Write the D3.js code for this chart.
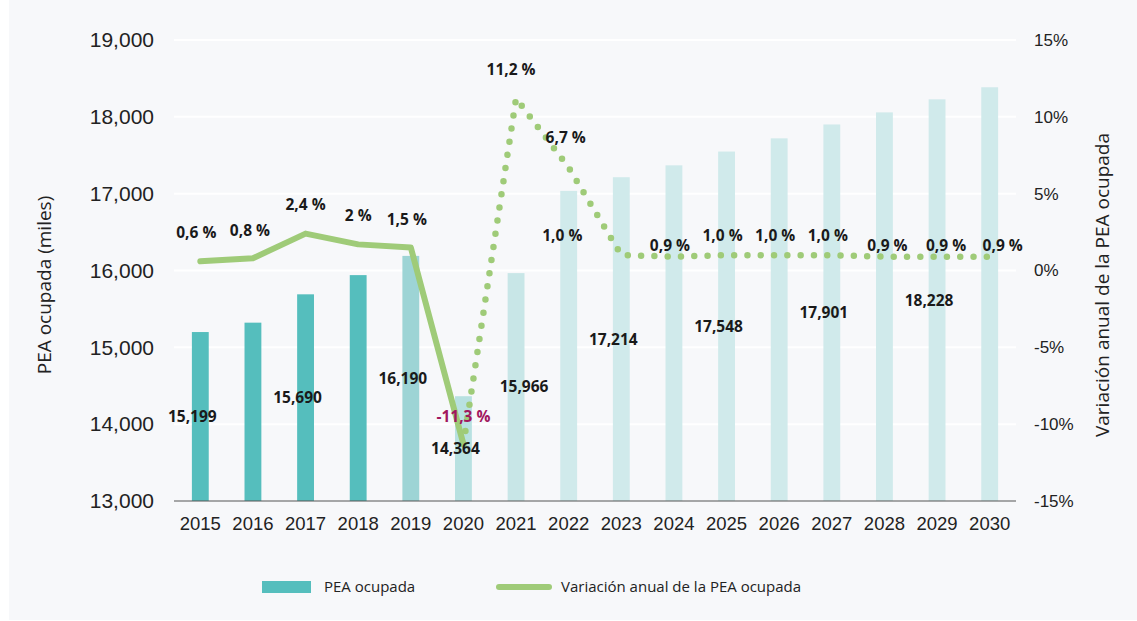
<!DOCTYPE html>
<html>
<head>
<meta charset="utf-8">
<script src="https://cdn.jsdelivr.net/npm/d3@7"></script>
<style>
  body { margin: 0; background: #fff; font-family: "Open Sans", "Noto Sans", sans-serif; }
</style>
</head>
<body>
<div id="chart"></div>
<script>
// data
var years = ["2015", "2016", "2017", "2018", "2019", "2020", "2021", "2022",
             "2023", "2024", "2025", "2026", "2027", "2028", "2029", "2030"];
var pea = [15199, 15321, 15690, 15940, 16190, 14364, 15966, 17036,
           17214, 17369, 17548, 17720, 17901, 18058, 18228, 18385];
var peaLabels = ["15,199", "", "15,690", "", "16,190", "14,364", "15,966", "",
                 "17,214", "", "17,548", "", "17,901", "", "18,228", ""];
var variacion = [0.6, 0.8, 2.4, 1.7, 1.5, -11.3, 11.2, 6.7,
                 1.0, 0.9, 1.0, 1.0, 1.0, 0.9, 0.9, 0.9];
var varLabels = ["0,6 %", "0,8 %", "2,4 %", "2 %", "1,5 %", "-11,3 %", "11,2 %", "6,7 %",
                 "1,0 %", "0,9 %", "1,0 %", "1,0 %", "1,0 %", "0,9 %", "0,9 %", "0,9 %"];
var leftTicks = [13000, 14000, 15000, 16000, 17000, 18000, 19000];
var rightTicks = [-15, -10, -5, 0, 5, 10, 15];

var svgWidth = 1137;
var svgHeight = 621;

var margin = { top: 40, right: 121, bottom: 120, left: 174 };
var width = svgWidth - margin.left - margin.right;
var height = svgHeight - margin.top - margin.bottom;

var barColors = ["#55bebd", "#55bebd", "#55bebd", "#55bebd", "#9dd4d5", "#b8e1e1", "#c8e6e7"];
var lightBar = "#d0eaeb";
var green = "#9fcb78";

// label nudges (dx, dy) for the line labels
var lineLabelOffset = [
  [-4, -29], [-3, -28], [0, -29], [0, -29], [-4, -28], [0, -28], [-5, -29], [-3, -30],
  [-59, -20], [-4, -11], [-4, -20], [-4, -20], [-4, -20], [3, -11], [9, -11], [13, -11]
];

var svg = d3.select("#chart")
  .append("svg")
  .attr("width", svgWidth)
  .attr("height", svgHeight);

svg.append("rect")
  .attr("x", 9)
  .attr("y", 0)
  .attr("width", svgWidth - 9)
  .attr("height", 620)
  .attr("fill", "#f7f8fa");

var chartGroup = svg.append("g")
  .attr("transform", `translate(${margin.left}, ${margin.top})`);

var xScale = d3.scaleBand()
  .domain(years)
  .range([0, width])
  .paddingInner(0.68)
  .paddingOuter(0.34);

var yLeft = d3.scaleLinear()
  .domain([13000, 19000])
  .range([height, 0]);

var yRight = d3.scaleLinear()
  .domain([-15, 15])
  .range([height, 0]);

// gridlines
chartGroup.append("g")
  .selectAll("line")
  .data(leftTicks.slice(1))
  .enter()
  .append("line")
  .attr("x1", 0)
  .attr("x2", width)
  .attr("y1", d => yLeft(d))
  .attr("y2", d => yLeft(d))
  .attr("stroke", "#ffffff")
  .attr("stroke-width", 2);

// bars
chartGroup.selectAll("rect.bar")
  .data(pea)
  .enter()
  .append("rect")
  .attr("class", "bar")
  .attr("x", (d, i) => xScale(years[i]))
  .attr("y", d => yLeft(d))
  .attr("width", xScale.bandwidth())
  .attr("height", d => height - yLeft(d))
  .attr("fill", (d, i) => i < barColors.length ? barColors[i] : lightBar);

// baseline
chartGroup.append("line")
  .attr("x1", 0)
  .attr("x2", width)
  .attr("y1", height)
  .attr("y2", height)
  .attr("stroke", "#555")
  .attr("stroke-width", 1.2);

// axes
var bottomAxis = d3.axisBottom(xScale).tickSize(0).tickPadding(16);
var leftAxis = d3.axisLeft(yLeft).tickValues(leftTicks).tickSize(0).tickPadding(20)
  .tickFormat(d3.format(","));
var rightAxis = d3.axisRight(yRight).tickValues(rightTicks).tickSize(0).tickPadding(18)
  .tickFormat(d => d + "%");

var gx = chartGroup.append("g")
  .attr("transform", `translate(0, ${height})`)
  .call(bottomAxis);
gx.selectAll("text").style("font-size", "18.5px").attr("fill", "#222");

var gl = chartGroup.append("g").call(leftAxis);
gl.selectAll("text").style("font-size", "21px").attr("fill", "#222");

var gr = chartGroup.append("g")
  .attr("transform", `translate(${width}, 0)`)
  .call(rightAxis);
gr.selectAll("text").style("font-size", "17px").attr("fill", "#222").attr("text-anchor", "start");

chartGroup.selectAll(".domain").remove();

// line
var cx = i => xScale(years[i]) + xScale.bandwidth() / 2;
var lineGen = d3.line()
  .x(d => cx(d.i))
  .y(d => yRight(d.v));

var pts = variacion.map((v, i) => ({ v: v, i: i }));

chartGroup.append("path")
  .datum(pts.slice(0, 6))
  .attr("d", lineGen)
  .attr("fill", "none")
  .attr("stroke", green)
  .attr("stroke-width", 6)
  .attr("stroke-linecap", "round")
  .attr("stroke-linejoin", "round");

chartGroup.append("path")
  .datum(pts.slice(5))
  .attr("d", lineGen)
  .attr("fill", "none")
  .attr("stroke", green)
  .attr("stroke-width", 6.5)
  .attr("stroke-linecap", "round")
  .attr("stroke-dasharray", "0 13.3");

// bar value labels
chartGroup.selectAll("text.barlab")
  .data(pea)
  .enter()
  .append("text")
  .attr("class", "barlab")
  .attr("x", (d, i) => cx(i) - (i == 6 ? -8 : 8))
  .attr("y", d => (yLeft(d) + height) / 2)
  .attr("dy", "0.35em")
  .attr("text-anchor", "middle")
  .style("font-size", "15.5px")
  .style("font-weight", "bold")
  .attr("fill", "#1a1a1a")
  .text((d, i) => peaLabels[i]);

// line value labels
chartGroup.selectAll("text.varlab")
  .data(variacion)
  .enter()
  .append("text")
  .attr("class", "varlab")
  .attr("x", (d, i) => cx(i) + lineLabelOffset[i][0])
  .attr("y", (d, i) => yRight(d) + lineLabelOffset[i][1])
  .attr("dy", "0.35em")
  .attr("text-anchor", "middle")
  .style("font-size", "15.5px")
  .style("font-weight", "bold")
  .attr("fill", d => d < 0 ? "#a1175e" : "#1a1a1a")
  .text((d, i) => varLabels[i]);

// axis titles
chartGroup.append("text")
  .attr("transform", `translate(${44 - margin.left}, ${285 - margin.top}) rotate(-90)`)
  .attr("text-anchor", "middle")
  .attr("dy", "0.35em")
  .style("font-size", "19px")
  .attr("fill", "#222")
  .text("PEA ocupada (miles)");

chartGroup.append("text")
  .attr("transform", `translate(${1102 - margin.left}, ${285 - margin.top}) rotate(-90)`)
  .attr("text-anchor", "middle")
  .attr("dy", "0.35em")
  .style("font-size", "19px")
  .attr("fill", "#222")
  .text("Variación anual de la PEA ocupada");

// legend
var legend = svg.append("g");
legend.append("rect")
  .attr("x", 262)
  .attr("y", 581)
  .attr("width", 49)
  .attr("height", 12)
  .attr("fill", "#55bebd");
legend.append("text")
  .attr("x", 324)
  .attr("y", 587)
  .attr("dy", "0.35em")
  .style("font-size", "15px")
  .attr("fill", "#222")
  .text("PEA ocupada");
legend.append("line")
  .attr("x1", 499)
  .attr("x2", 549)
  .attr("y1", 587)
  .attr("y2", 587)
  .attr("stroke", green)
  .attr("stroke-width", 6)
  .attr("stroke-linecap", "round");
legend.append("text")
  .attr("x", 561)
  .attr("y", 587)
  .attr("dy", "0.35em")
  .style("font-size", "15px")
  .attr("fill", "#222")
  .text("Variación anual de la PEA ocupada");
</script>
</body>
</html>
